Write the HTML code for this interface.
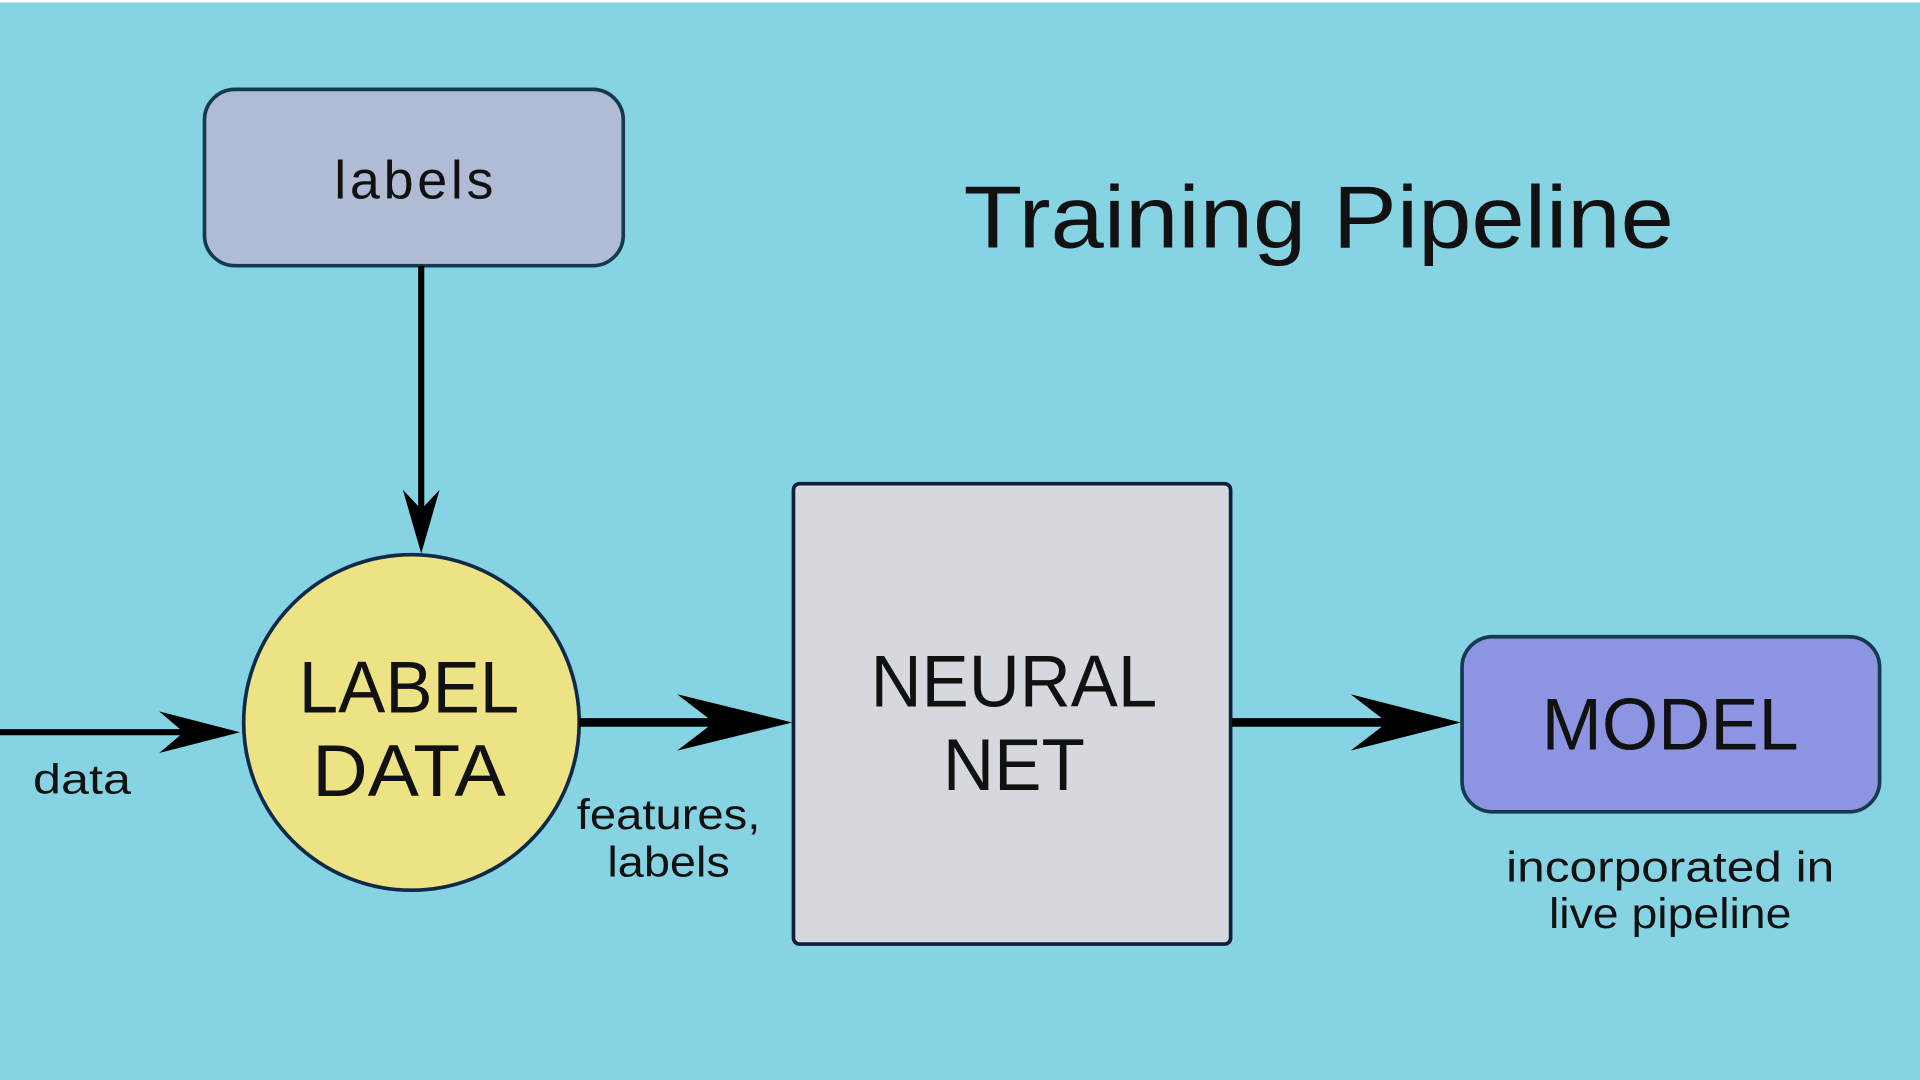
<!DOCTYPE html>
<html><head><meta charset="utf-8"><style>
html,body{margin:0;padding:0;background:#fff;}
svg{display:block;}
text{font-family:"Liberation Sans",sans-serif;fill:#111;}
</style></head><body>
<svg width="1920" height="1080" viewBox="0 0 1568 882" preserveAspectRatio="none">
<rect x="0" y="2" width="1568" height="880" fill="#86d3e3"/>
<rect x="167" y="73" width="342" height="144" rx="25" fill="#b0bcd6" stroke="#143a50" stroke-width="3"/>
<text x="338" y="162" font-size="44" text-anchor="middle" textLength="130" lengthAdjust="spacing">labels</text>
<text x="1077" y="202" font-size="72" text-anchor="middle" textLength="580" lengthAdjust="spacingAndGlyphs">Training Pipeline</text>
<line x1="344" y1="217" x2="344" y2="420" stroke="#000" stroke-width="5"/>
<polygon points="344,452 329,400 344,416 359,400" fill="#000"/>
<circle cx="336" cy="590" r="137" fill="#ede284" stroke="#0f2a48" stroke-width="3"/>
<text x="334" y="582" font-size="60" text-anchor="middle" textLength="180" lengthAdjust="spacingAndGlyphs">LABEL</text>
<text x="334" y="650" font-size="60" text-anchor="middle" textLength="158" lengthAdjust="spacingAndGlyphs">DATA</text>
<line x1="0" y1="598" x2="165" y2="598" stroke="#000" stroke-width="5"/>
<polygon points="196,598 130,581 150,598 130,615" fill="#000"/>
<text x="67" y="648" font-size="34" text-anchor="middle" textLength="80" lengthAdjust="spacingAndGlyphs">data</text>
<line x1="473" y1="590" x2="610" y2="590" stroke="#000" stroke-width="7"/>
<polygon points="647,590 553,567 583,590 553,613" fill="#000"/>
<text x="546" y="677" font-size="35" text-anchor="middle" textLength="150" lengthAdjust="spacingAndGlyphs">features,</text>
<text x="546" y="716" font-size="35" text-anchor="middle" textLength="100" lengthAdjust="spacingAndGlyphs">labels</text>
<rect x="648" y="395" width="357" height="376" rx="5" fill="#d5d8dc" stroke="#0f1e3a" stroke-width="3"/>
<text x="828" y="577" font-size="60" text-anchor="middle" textLength="234" lengthAdjust="spacingAndGlyphs">NEURAL</text>
<text x="828" y="645" font-size="60" text-anchor="middle" textLength="116" lengthAdjust="spacingAndGlyphs">NET</text>
<line x1="1006" y1="590" x2="1160" y2="590" stroke="#000" stroke-width="7"/>
<polygon points="1193,590 1103,567 1133,590 1103,613" fill="#000"/>
<rect x="1194" y="520" width="341" height="143" rx="25" fill="#8d95e3" stroke="#143a50" stroke-width="3"/>
<text x="1364" y="612" font-size="60" text-anchor="middle" textLength="210" lengthAdjust="spacingAndGlyphs">MODEL</text>
<text x="1364" y="720" font-size="35" text-anchor="middle" textLength="268" lengthAdjust="spacingAndGlyphs">incorporated in</text>
<text x="1364" y="758" font-size="35" text-anchor="middle" textLength="198" lengthAdjust="spacingAndGlyphs">live pipeline</text>
</svg>
</body></html>
